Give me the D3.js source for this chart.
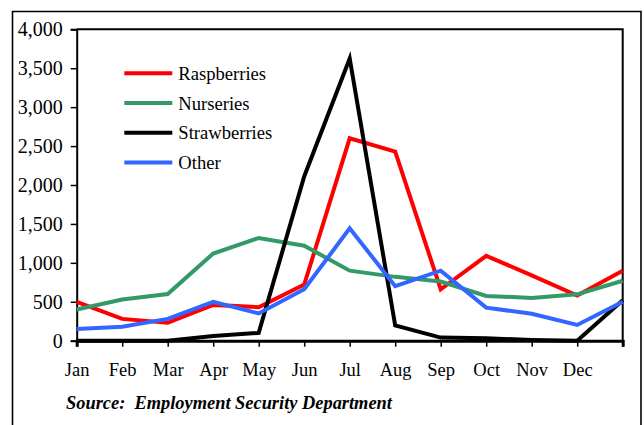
<!DOCTYPE html>
<html>
<head>
<meta charset="utf-8">
<script src="https://cdn.jsdelivr.net/npm/d3@7"></script>
<style>
  html, body { margin: 0; padding: 0; background: #fff; }
  svg { display: block; }
  text { font-family: "Liberation Serif", "Times New Roman", serif; fill: #000; }
</style>
</head>
<body>
<svg id="chart" width="644" height="425"></svg>
<script>
// Monthly employment by crop (13th point is the following January)
const months = ["Jan", "Feb", "Mar", "Apr", "May", "Jun", "Jul", "Aug", "Sep", "Oct", "Nov", "Dec"];
const raspberries  = [500, 280, 230, 460, 430, 720, 2600, 2430, 660, 1090, 840, 580, 900];
const nurseries    = [400, 530, 600, 1120, 1320, 1220, 900, 820, 760, 575, 550, 596, 770];
const strawberries = [0, 0, 0, 60, 100, 2110, 3625, 195, 40, 30, 10, 0, 520];
const other        = [150, 180, 280, 500, 350, 660, 1445, 700, 900, 425, 345, 202, 500];
const yTicks = [0, 500, 1000, 1500, 2000, 2500, 3000, 3500, 4000];

const seriesNames  = ["Raspberries", "Nurseries", "Strawberries", "Other"];
const seriesValues = [raspberries, nurseries, strawberries, other];
const seriesColors = ["#ff0000", "#339966", "#000000", "#3366ff"];

const svg = d3.select("#chart");

// outer frame (open at the bottom)
svg.append("path")
  .attr("d", "M12.5,425 V11.5 H641 V425")
  .attr("fill", "none").attr("stroke", "#000").attr("stroke-width", 1.6);

const plotLeft = 76.7, plotRight = 622.7, plotTop = 29.3, plotBottom = 340.7;

const x = d3.scaleLinear().domain([0, 12]).range([plotLeft, plotRight]);
const y = d3.scaleLinear().domain([0, 4000]).range([plotBottom, plotTop]);

// plot area top and right border
svg.append("path")
  .attr("d", `M${plotLeft},${plotTop} H${plotRight} V${plotBottom}`)
  .attr("fill", "none").attr("stroke", "#000").attr("stroke-width", 2);

// y axis
const yAxis = svg.append("g")
  .attr("transform", `translate(${plotLeft},0)`)
  .call(d3.axisLeft(y).tickValues(yTicks).tickFormat(d3.format(",")).tickSize(6).tickPadding(8));
yAxis.select(".domain").attr("stroke-width", 2);
yAxis.selectAll(".tick line").attr("stroke-width", 1.5);
yAxis.selectAll("text").attr("font-size", 20).style("font-family", "Liberation Serif").attr("fill", "#000");

// series lines
const line = d3.line().x((d, i) => x(i)).y(d => y(d));
seriesValues.forEach((vals, k) => {
  svg.append("path")
    .datum(vals)
    .attr("d", line)
    .attr("fill", "none")
    .attr("stroke", seriesColors[k])
    .attr("stroke-width", 4)
    .attr("stroke-linejoin", "miter");
});

// x axis
const xAxis = svg.append("g")
  .attr("transform", `translate(0,${plotBottom})`)
  .call(d3.axisBottom(x).tickValues(d3.range(13)).tickFormat(i => months[i] || "").tickSize(6).tickPadding(16));
xAxis.select(".domain").attr("stroke-width", 3);
xAxis.selectAll(".tick line").attr("stroke-width", 1.5);
xAxis.selectAll("text").attr("font-size", 18.5).style("font-family", "Liberation Serif").attr("fill", "#000");

// legend
const legend = svg.append("g");
seriesNames.forEach((name, k) => {
  const ly = 73.3 + k * 29.7;
  legend.append("line")
    .attr("x1", 124.3).attr("x2", 172.3)
    .attr("y1", ly).attr("y2", ly)
    .attr("stroke", seriesColors[k]).attr("stroke-width", 4);
  legend.append("text")
    .attr("x", 178.3).attr("y", ly)
    .attr("dy", "0.35em")
    .attr("font-size", 18.6)
    .text(name);
});

// source note
svg.append("text")
  .attr("x", 66).attr("y", 409)
  .attr("font-size", 18.4)
  .attr("font-style", "italic")
  .attr("font-weight", "bold")
  .style("white-space", "pre")
  .text("Source:  Employment Security Department");
</script>
</body>
</html>
